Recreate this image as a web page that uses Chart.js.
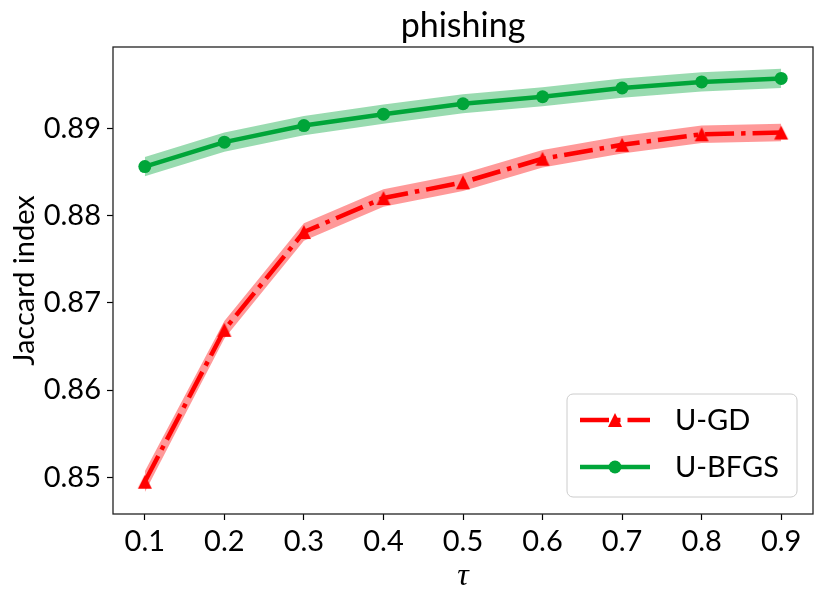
<!DOCTYPE html>
<html>
<head>
<meta charset="utf-8">
<script src="https://cdn.jsdelivr.net/npm/chart.js@4.4.1/dist/chart.umd.min.js"></script>
<style>
  html, body { margin: 0; padding: 0; background: #ffffff; }
  #wrap { width: 831px; height: 602px; }
</style>
</head>
<body>
<div id="wrap"><canvas id="c" width="831" height="602"></canvas></div>
<script>
// ---- data ----
const tau = [0.1, 0.2, 0.3, 0.4, 0.5, 0.6, 0.7, 0.8, 0.9];
const gdMean = [0.8495, 0.8669, 0.8781, 0.8820, 0.8838, 0.8865, 0.8881, 0.8893, 0.8895];
const gdStd = [0.0012, 0.0010, 0.0010, 0.0010, 0.0010, 0.0010, 0.0010, 0.0010, 0.0010];
const bfgsMean = [0.8856, 0.8884, 0.8903, 0.8916, 0.8928, 0.8936, 0.8946, 0.8953, 0.8957];
const bfgsStd = [0.0011, 0.0011, 0.0011, 0.0011, 0.0011, 0.0011, 0.0011, 0.0011, 0.0011];
const xTicks = [0.1, 0.2, 0.3, 0.4, 0.5, 0.6, 0.7, 0.8, 0.9];
const yTicks = [0.85, 0.86, 0.87, 0.88, 0.89];
const seriesNames = ['U-GD', 'U-BFGS'];
const chartTitle = 'phishing';
const xLabel = 'τ';
const yLabel = 'Jaccard index';

// ---- styles ----
const RED = '#ff0000';
const RED_BAND = 'rgba(255,0,0,0.4)';
const GREEN = 'rgb(0,166,58)';
const GREEN_BAND = 'rgba(0,166,58,0.4)';
const DASHDOT = [29, 7, 4.5, 7];
const FONT = 'Lato';

function pts(xs, ys) { return xs.map((x, i) => ({ x: x, y: ys[i] })); }

// matplotlib-like '^' marker
const tri = document.createElement('canvas');
tri.width = 16; tri.height = 16;
(function () {
  const t = tri.getContext('2d');
  t.fillStyle = RED;
  t.beginPath();
  t.moveTo(8, 1); t.lineTo(15, 15); t.lineTo(1, 15); t.closePath();
  t.fill();
})();

const bandGdLo = pts(tau, gdMean.map((m, i) => m - gdStd[i]));
const bandGdHi = pts(tau, gdMean.map((m, i) => m + gdStd[i]));
const bandBfLo = pts(tau, bfgsMean.map((m, i) => m - bfgsStd[i]));
const bandBfHi = pts(tau, bfgsMean.map((m, i) => m + bfgsStd[i]));

const bandBase = { borderWidth: 0, pointRadius: 0, tension: 0, showLine: true };

const framePlugin = {
  id: 'frame',
  afterDatasetsDraw(chart) {
    const ca = chart.chartArea, ctx = chart.ctx;
    ctx.save();
    ctx.strokeStyle = '#222';
    ctx.lineWidth = 1.3;
    ctx.strokeRect(ca.left, ca.top, ca.right - ca.left, ca.bottom - ca.top);
    ctx.restore();
  },
  afterDraw(chart) {
    const ca = chart.chartArea, ctx = chart.ctx;
    ctx.save();
    // title
    ctx.fillStyle = '#000';
    ctx.font = '34px ' + FONT;
    ctx.textAlign = 'center';
    ctx.textBaseline = 'alphabetic';
    ctx.fillText(chartTitle, (ca.left + ca.right) / 2, 37);

    // legend
    const w = 230, h = 103;
    const x0 = ca.right - 16 - w, y0 = ca.bottom - 17 - h;
    ctx.beginPath();
    if (ctx.roundRect) ctx.roundRect(x0, y0, w, h, 6); else ctx.rect(x0, y0, w, h);
    ctx.fillStyle = 'rgba(255,255,255,0.8)';
    ctx.fill();
    ctx.strokeStyle = '#cccccc';
    ctx.lineWidth = 1;
    ctx.stroke();

    const rows = [y0 + 26, y0 + 73];
    const lx0 = x0 + 13, lx1 = x0 + 83, mx = x0 + 48;
    // U-GD
    ctx.strokeStyle = RED; ctx.lineWidth = 4.5; ctx.setLineDash(DASHDOT); ctx.lineCap = 'butt';
    ctx.beginPath(); ctx.moveTo(lx0, rows[0]); ctx.lineTo(lx1, rows[0]); ctx.stroke();
    ctx.setLineDash([]);
    ctx.drawImage(tri, mx - 8, rows[0] - 8);
    // U-BFGS
    ctx.strokeStyle = GREEN; ctx.lineWidth = 4.5;
    ctx.beginPath(); ctx.moveTo(lx0, rows[1]); ctx.lineTo(lx1, rows[1]); ctx.stroke();
    ctx.fillStyle = GREEN;
    ctx.beginPath(); ctx.arc(mx, rows[1], 6.5, 0, Math.PI * 2); ctx.fill();

    ctx.fillStyle = '#000';
    ctx.font = '29px ' + FONT;
    ctx.textAlign = 'left';
    ctx.textBaseline = 'middle';
    ctx.fillText(seriesNames[0], x0 + 108, rows[0] + 1);
    ctx.fillText(seriesNames[1], x0 + 108, rows[1] + 1);
    ctx.restore();
  }
};

new Chart(document.getElementById('c'), {
  type: 'line',
  data: {
    datasets: [
      Object.assign({ label: 'gd-lo', data: bandGdLo, fill: false, backgroundColor: RED_BAND }, bandBase),
      Object.assign({ label: 'gd-hi', data: bandGdHi, fill: '-1', backgroundColor: RED_BAND }, bandBase),
      Object.assign({ label: 'bf-lo', data: bandBfLo, fill: false, backgroundColor: GREEN_BAND }, bandBase),
      Object.assign({ label: 'bf-hi', data: bandBfHi, fill: '-1', backgroundColor: GREEN_BAND }, bandBase),
      {
        label: seriesNames[0], data: pts(tau, gdMean), fill: false,
        borderColor: RED, borderWidth: 4.5, borderDash: DASHDOT, borderCapStyle: 'butt',
        borderJoinStyle: 'round', tension: 0,
        pointStyle: tri, pointRadius: 8, pointHoverRadius: 8
      },
      {
        label: seriesNames[1], data: pts(tau, bfgsMean), fill: false,
        borderColor: GREEN, borderWidth: 4.5, borderJoinStyle: 'round', tension: 0,
        pointStyle: 'circle', pointRadius: 6.5, pointBorderWidth: 0,
        pointBackgroundColor: GREEN, pointHoverRadius: 6.5
      }
    ]
  },
  options: {
    responsive: false,
    animation: false,
    devicePixelRatio: 1,
    layout: { padding: { top: 47, right: 18, bottom: 0, left: 0 } },
    plugins: { legend: { display: false }, title: { display: false }, tooltip: { enabled: false } },
    scales: {
      x: {
        type: 'linear', min: 0.06, max: 0.94,
        afterBuildTicks: s => { s.ticks = xTicks.map(v => ({ value: v })); },
        afterFit: s => { s.height = 88; },
        ticks: { callback: v => v.toFixed(1), font: { family: FONT, size: 29 }, color: '#000', padding: 4, maxRotation: 0, autoSkip: false },
        grid: { drawOnChartArea: false, drawTicks: true, tickLength: 6, tickColor: '#000', tickWidth: 1.2 },
        border: { display: false },
        title: { display: true, text: xLabel, color: '#000', font: { family: 'Liberation Serif', size: 32, style: 'italic' }, padding: { top: 0, bottom: 6 } }
      },
      y: {
        type: 'linear', min: 0.8458, max: 0.8993,
        afterBuildTicks: s => { s.ticks = yTicks.map(v => ({ value: v })); },
        afterFit: s => { s.width = 113; },
        ticks: { callback: v => v.toFixed(2), font: { family: FONT, size: 29 }, color: '#000', padding: 6, autoSkip: false },
        grid: { drawOnChartArea: false, drawTicks: true, tickLength: 6, tickColor: '#000', tickWidth: 1.2 },
        border: { display: false },
        title: { display: true, text: yLabel, color: '#000', font: { family: FONT, size: 29 }, padding: { top: 7, bottom: 0 } }
      }
    }
  },
  plugins: [framePlugin]
});
</script>
</body>
</html>
